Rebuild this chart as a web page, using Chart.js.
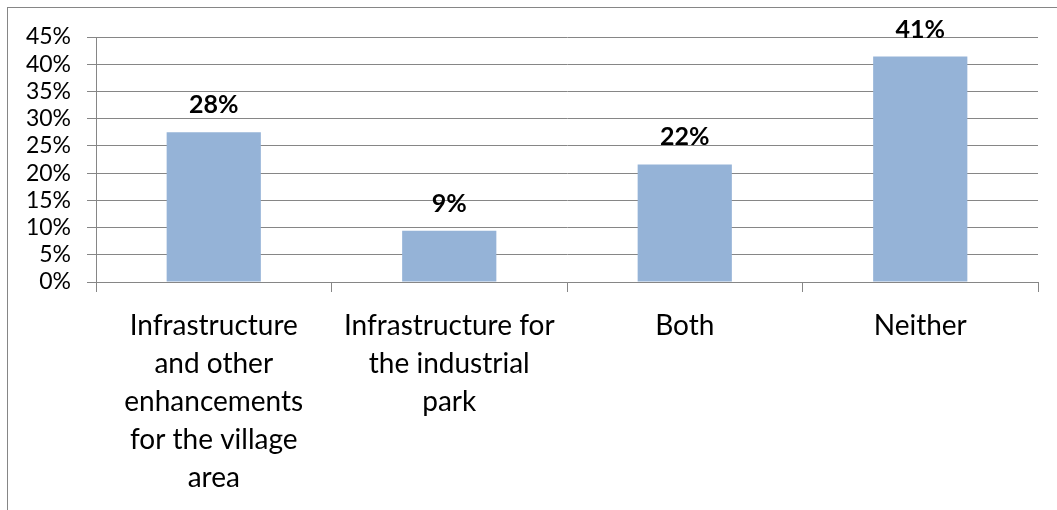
<!DOCTYPE html>
<html lang="en">
<head>
<meta charset="utf-8">
<title>Preferred use of funds</title>
<script src="https://cdn.jsdelivr.net/npm/chart.js@4.4.1/dist/chart.umd.min.js"></script>
<style>
  html, body {
    margin: 0;
    padding: 0;
    background: #ffffff;
    overflow: hidden;
  }
  .frame {
    position: absolute;
    left: 7px;
    top: 7px;
    width: 1100px;
    height: 560px;
    border: 1px solid #868686;
  }
  #funds-chart {
    position: absolute;
    left: 0;
    top: 0;
  }
</style>
</head>
<body>
<div class="frame"></div>
<canvas id="funds-chart" width="1057" height="510"></canvas>
<script>
const categories = [
  ['Infrastructure', 'and other', 'enhancements', 'for the village', 'area'],
  ['Infrastructure for', 'the industrial', 'park'],
  ['Both'],
  ['Neither'],
];
const shares = [27.5, 9.4, 21.6, 41.4];
const yTicks = [0, 5, 10, 15, 20, 25, 30, 35, 40, 45];

const FONT = 'Lato, "Open Sans", sans-serif';
const GRID = '#868686';

// bold percentage above each bar
const barLabels = {
  id: 'barLabels',
  afterDatasetsDraw(chart) {
    const { ctx } = chart;
    const meta = chart.getDatasetMeta(0);
    ctx.save();
    ctx.font = `bold 25px ${FONT}`;
    ctx.fillStyle = '#000000';
    ctx.textAlign = 'center';
    ctx.textBaseline = 'alphabetic';
    meta.data.forEach((bar, i) => {
      const value = chart.data.datasets[0].data[i];
      ctx.fillText(`${Math.round(value)}%`, bar.x, bar.y - 19);
    });
    ctx.restore();
  },
};

new Chart(document.querySelector('#funds-chart'), {
  type: 'bar',
  data: {
    labels: categories,
    datasets: [
      {
        data: shares,
        backgroundColor: '#95B3D7',
        borderWidth: 0,
        barPercentage: 0.4,
        categoryPercentage: 1.0,
      },
    ],
  },
  options: {
    responsive: false,
    animation: false,
    layout: { padding: { top: 37, right: 19, left: 0, bottom: 0 } },
    plugins: {
      legend: { display: false },
      tooltip: { enabled: false },
    },
    scales: {
      x: {
        offset: true,
        afterFit: (axis) => { axis.height = 228; },
        grid: {
          offset: true,
          drawOnChartArea: false,
          drawTicks: true,
          tickLength: 10,
          color: GRID,
        },
        border: { display: true, color: GRID, width: 1 },
        ticks: {
          color: '#000000',
          padding: 15,
          maxRotation: 0,
          autoSkip: false,
          font: { family: FONT, size: 28, lineHeight: 1.357 },
        },
      },
      y: {
        min: 0,
        max: 45,
        afterFit: (axis) => { axis.width = 96; },
        afterBuildTicks: (axis) => {
          axis.ticks = yTicks.map((v) => ({ value: v }));
        },
        grid: {
          color: GRID,
          lineWidth: 1,
          tickLength: 9,
        },
        border: { display: true, color: GRID, width: 1 },
        ticks: {
          color: '#000000',
          padding: 16,
          autoSkip: false,
          font: { family: FONT, size: 23 },
          callback: (value) => `${value}%`,
        },
      },
    },
  },
  plugins: [barLabels],
});
</script>
</body>
</html>
